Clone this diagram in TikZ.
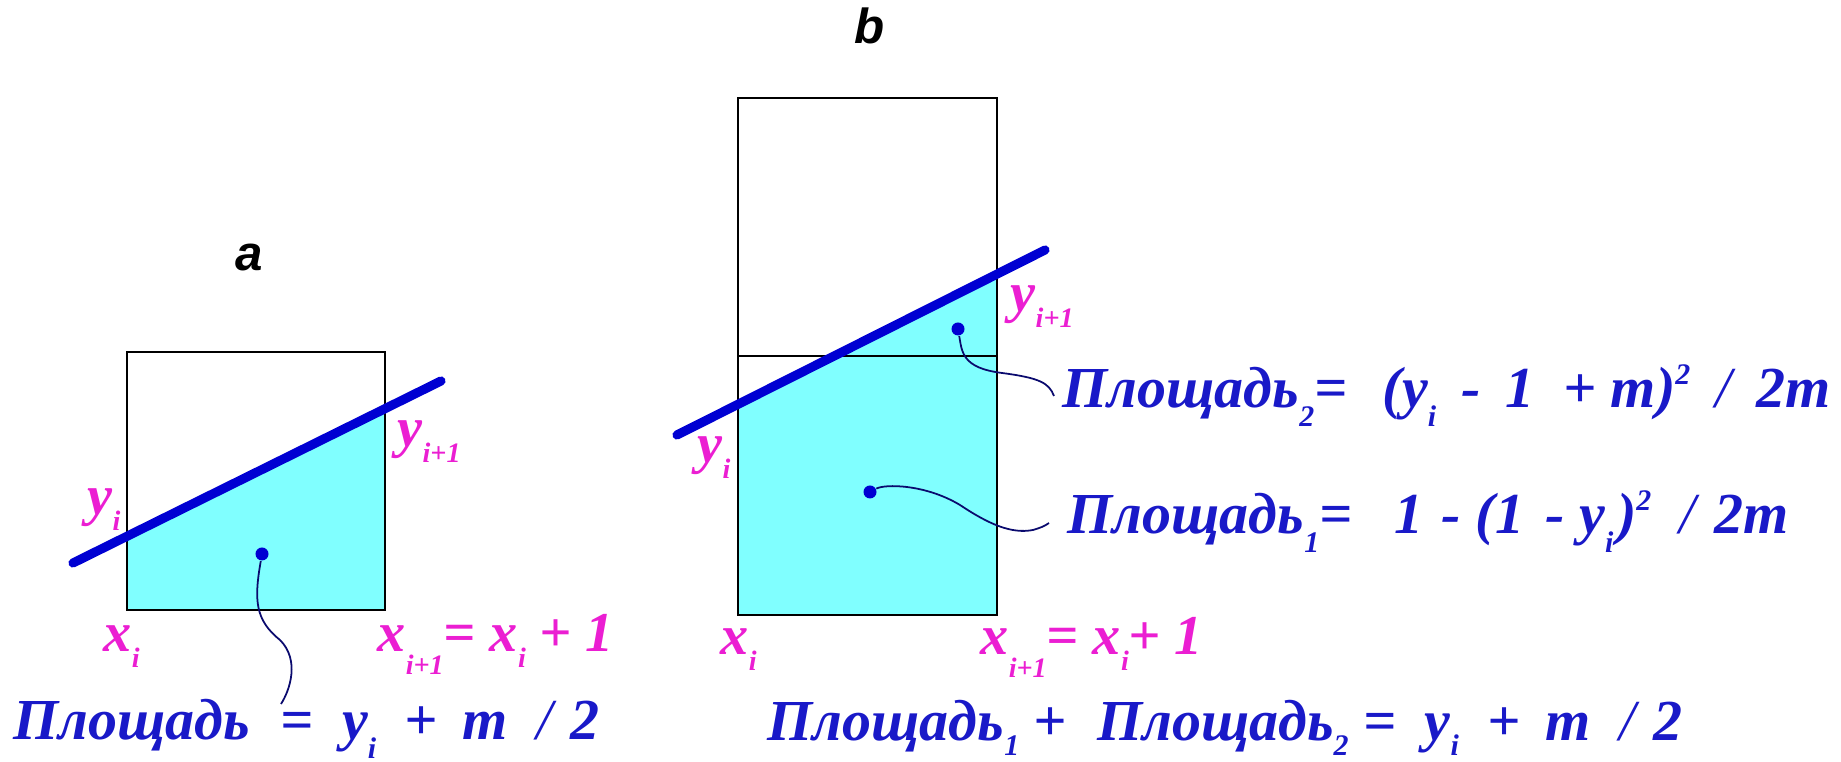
\documentclass[tikz,border=0pt]{standalone}
\usepackage{fontspec}
\setmainfont{Liberation Serif}
\newfontfamily\formfont{Liberation Serif}
\newfontfamily\panelfont{Liberation Sans}
\usetikzlibrary{positioning}

\definecolor{fillcyan}{RGB}{128,255,255}
\definecolor{lineblue}{RGB}{0,0,210}
\definecolor{textblue}{RGB}{25,25,200}
\definecolor{labmag}{RGB}{235,30,210}
\definecolor{leadblue}{RGB}{10,10,110}

% lowered / raised indices
\newcommand{\lo}[1]{\raisebox{-4.5pt}{\fontsize{8}{9}\selectfont #1}}
\newcommand{\dn}[1]{\raisebox{-6.5pt}{\fontsize{8}{9}\selectfont #1}}
\newcommand{\fs}[1]{\raisebox{-5.2pt}{\fontsize{8.5}{9}\selectfont #1}}
\newcommand{\ft}[1]{\raisebox{-4.2pt}{\fontsize{8.5}{9}\selectfont #1}}
\newcommand{\hi}[1]{\raisebox{6.8pt}{\fontsize{8.5}{9}\selectfont #1}}

\begin{document}
\begin{tikzpicture}[
    x=0.01cm, y=-0.01cm,
    cell/.style={draw=black, line width=0.5pt},
    secant/.style={draw=lineblue, line width=2.6pt, line cap=round},
    lead/.style={draw=leadblue, line width=0.5pt},
    dot/.style={circle, fill=lineblue, inner sep=0pt, minimum size=0.13cm},
    lab/.style={inner sep=0pt, anchor=base west, text=labmag, font=\formfont\fontsize{16}{18}\selectfont\bfseries\itshape},
    formula/.style={inner sep=0pt, anchor=base west, text=textblue, font=\formfont\fontsize{16.5}{19}\selectfont\bfseries\itshape},
    panel/.style={inner sep=0pt, font=\panelfont\fontsize{14}{16}\selectfont\bfseries\itshape}
]
\useasboundingbox (0,0) rectangle (1841,762);

% panel a
\coordinate (a1) at (73,563);
\coordinate (a2) at (441,381);
\begin{scope}
  \clip (127,352) rectangle (385,610);
  \fill[fillcyan] (a1) -- (a2) -- (441,610) -- (73,610) -- cycle;
\end{scope}
\draw[cell] (127,352) rectangle (385,610);
\draw[secant] (a1) -- (a2);
\node[dot] (da) at (262,554) {};
\coordinate (ea) at (281,704);
\draw[lead] (da) .. controls (254,600) and (255,620) .. (280,640)
                 .. controls (300,660) and (290,690) .. (ea);

\node[panel] (pa) at (249,258) {a};
\node[lab] (ayi) at (87,515) {y\lo{i}};
\node[lab] (ayj) at (397,447) {y\lo{i+1}};
\node[lab] (axi) at (103,652) {x\lo{i}};
\node[lab] (axj) at (377,652) {x\dn{i+1}= x\lo{i} + 1};
\node[formula] (fa) at (13,740) {Площадь\ \hspace{4.5pt}=\ \hspace{4pt}y\fs{i}\ \hspace{4pt}+\ \hspace{3pt}m\ \hspace{4pt}{\mdseries /}\ \hspace{1pt}2};

% panel b
\coordinate (b1) at (677,435);
\coordinate (b2) at (1045,250);
\begin{scope}
  \clip (738,98) rectangle (997,615);
  \fill[fillcyan] (b1) -- (b2) -- (1045,615) -- (677,615) -- cycle;
\end{scope}
\draw[cell] (738,98) rectangle (997,615);
\draw[cell] (738,356) -- (997,356);
\draw[secant] (b1) -- (b2);
\node[dot] (d2) at (958,329) {};
\node[dot] (d1) at (870,492) {};
\coordinate (e2) at (1054,396);
\coordinate (e1) at (1049,523);
\draw[lead] (d2) .. controls (962,352) and (962,368) .. (1002,373)
                 .. controls (1040,378) and (1049,383) .. (e2);
\draw[lead] (d1) .. controls (885,484) and (925,484) .. (960,505)
                 .. controls (990,525) and (1012,534) .. (1033,530)
                 .. controls (1040,528) and (1045,526) .. (e1);

\node[panel] (pb) at (870,26) {b};
\node[lab] (byi) at (697,463) {y\lo{i}};
\node[lab] (byj) at (1010,312) {y\lo{i+1}};
\node[lab] (bxi) at (720,655) {x\lo{i}};
\node[lab] (bxj) at (980,655) {x\dn{i+1}= x\lo{i}+ 1};
\node[formula] (f2) at (1062,408) {Площадь\fs{2}=\ \hspace{6pt}(y\fs{i}\ \hspace{3pt}-\ \hspace{3pt}1\ \hspace{4pt}+\ m)\hi{2}\ \hspace{3pt}{\mdseries /}\ \hspace{3pt}2m};
\node[formula] (f1) at (1067,534) {Площадь\fs{1}=\ \hspace{8pt}1\ \hspace{1pt}-\ (1\ \hspace{2pt}-\ y\fs{i}\hspace{1pt})\hi{2}\ \hspace{4pt}{\mdseries /}\ \hspace{1pt}2m};
\node[formula] (fb) at (767,741) {Площадь\ft{1}\ +\ \hspace{4.5pt}Площадь\ft{2}\ =\ \hspace{4pt}y\ft{i}\ \hspace{4pt}+\ \hspace{3pt}m\ \hspace{4pt}{\mdseries /}\ \hspace{1pt}2};

\end{tikzpicture}
\end{document}
